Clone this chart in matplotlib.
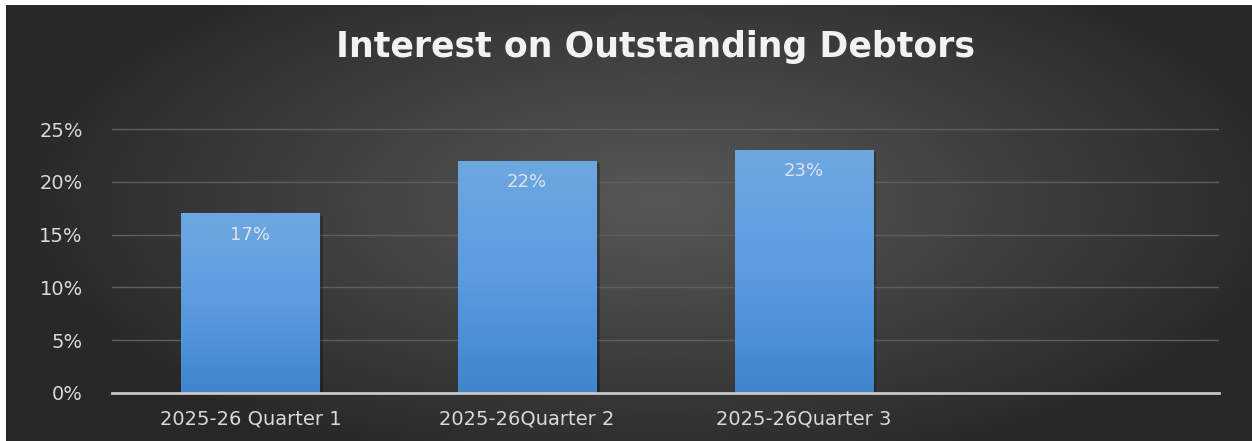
import matplotlib
matplotlib.use("Agg")
import matplotlib.pyplot as plt
import numpy as np
from matplotlib.colors import LinearSegmentedColormap

# chart data
quarters = ["2025-26 Quarter 1", "2025-26Quarter 2", "2025-26Quarter 3", ""]
interest = [0.17, 0.22, 0.23, np.nan]
labels = ["17%", "22%", "23%", ""]
y_ticks = [0, 0.05, 0.10, 0.15, 0.20, 0.25]

W, H = 1252, 441
fig = plt.figure(figsize=(W / 100, H / 100), dpi=100)
fig.patch.set_facecolor("white")

# dark radial background
bg = fig.add_axes([6 / W, 0, 1 - 6 / W, 1 - 5 / H])
bg.set_axis_off()
gx, gy = np.meshgrid(np.linspace(-1, 1, 600), np.linspace(-1, 1, 220))
r = np.sqrt(((gx - 0.05) / 1.05) ** 2 + ((gy + 0.1) / 1.3) ** 2)
r = np.clip(r, 0, 1)
bg_cmap = LinearSegmentedColormap.from_list("bg", ["#585858", "#414141", "#282828"])
bg.imshow(r, cmap=bg_cmap, aspect="auto", extent=[0, 1, 0, 1], vmin=0, vmax=1)
bg.set_xlim(0, 1)
bg.set_ylim(0, 1)

# plot area
ymax = 0.26
px_per_unit = 52.8 / 0.05
ax_h = ymax * px_per_unit
ax = fig.add_axes([112 / W, (H - 393) / H, (1219 - 112) / W, ax_h / H])
ax.patch.set_alpha(0)

x = np.arange(len(quarters))
bars = ax.bar(x, interest, width=0.5, color="none", edgecolor="none", zorder=3)

bar_cmap = LinearSegmentedColormap.from_list("bar", ["#3f86cc", "#5b9be0", "#6ea8e0"])
grad = np.linspace(0, 1, 256).reshape(-1, 1)
for b, val, lab in zip(bars, interest, labels):
    if np.isnan(val):
        continue
    x0 = b.get_x()
    w = b.get_width()
    # soft shadow behind bar
    ax.bar(x0 + w / 2 + 0.012, val, width=w, bottom=-0.002, color="black",
           alpha=0.25, zorder=2)
    im = ax.imshow(grad, cmap=bar_cmap, aspect="auto", origin="lower",
                   extent=[x0, x0 + w, 0, val], zorder=3)
    im.set_clip_path(b)
    ax.text(x0 + w / 2, val - 0.02, lab, ha="center", va="center",
            fontsize=13, color="#dde4ee", zorder=4)

ax.set_xlim(-0.5, len(quarters) - 0.5)
ax.set_ylim(0, ymax)
ax.set_yticks(y_ticks)
ax.set_yticklabels([f"{int(round(t * 100))}%" for t in y_ticks])
ax.set_xticks(x)
ax.set_xticklabels(quarters)
ax.grid(axis="y", color="#5e5e5e", linewidth=1, zorder=0)
ax.set_axisbelow(True)
for s in ["top", "right", "left"]:
    ax.spines[s].set_visible(False)
ax.spines["bottom"].set_color("#c8c8c8")
ax.spines["bottom"].set_linewidth(2)
ax.spines["bottom"].set_zorder(5)
ax.tick_params(length=0, colors="#d9d9d9", labelsize=14)
ax.tick_params(axis="y", pad=21)
ax.tick_params(axis="x", pad=12)

fig.text(656 / W, 1 - 57 / H, "Interest on Outstanding Debtors", ha="center",
         va="baseline", fontsize=25, fontweight="bold", family="DejaVu Sans",
         color="#f2f2f2")

fig.savefig("out.png", dpi=100, facecolor=fig.get_facecolor())
